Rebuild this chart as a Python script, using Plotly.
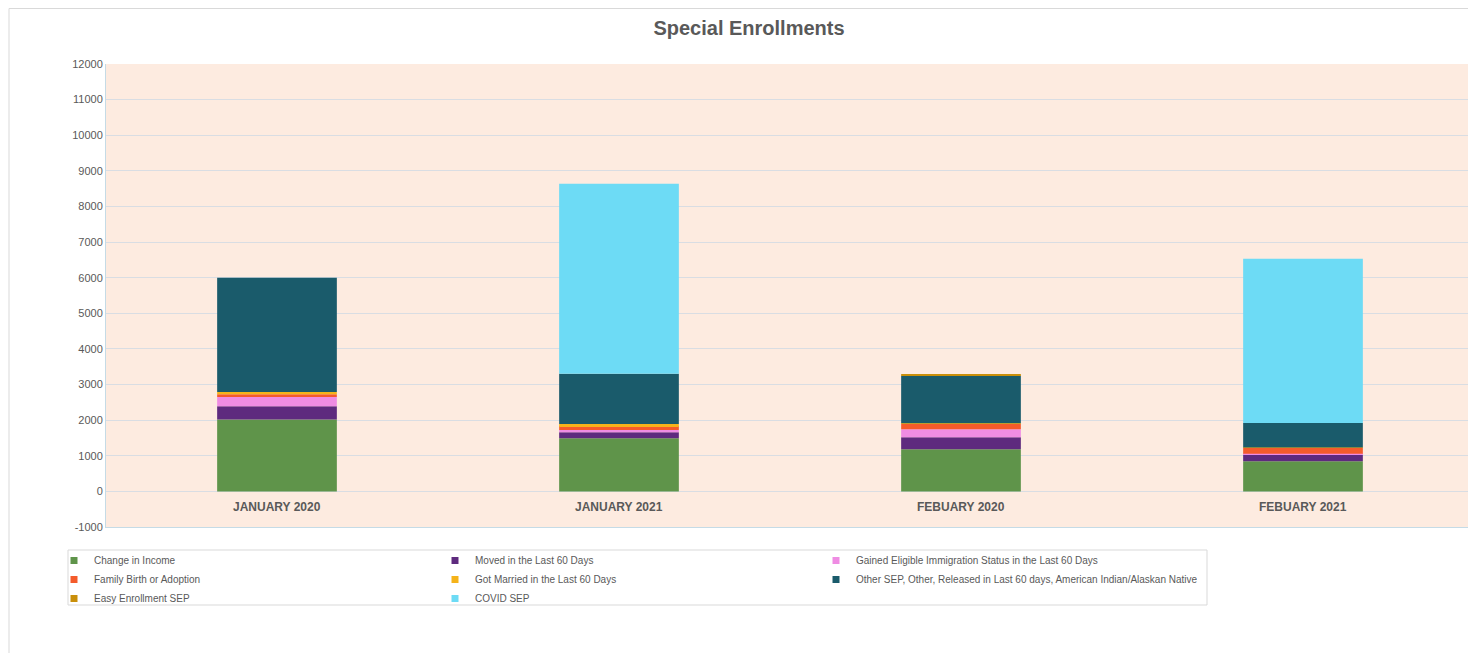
import plotly.graph_objects as go

categories = ["JANUARY 2020", "JANUARY 2021", "FEBUARY 2020", "FEBUARY 2021"]

change_in_income = [2020, 1490, 1180, 845]
moved_60 = [370, 170, 340, 185]
gained_immigration = [260, 65, 225, 30]
family_birth = [80, 110, 155, 165]
got_married = [60, 55, 10, 5]
other_sep = [3210, 1415, 1340, 690]
easy_enrollment = [0, 0, 20, 0]
covid_sep = [0, 5335, 0, 4610]

series = [
    ("Change in Income", change_in_income, "#5f944a"),
    ("Moved in the Last 60 Days", moved_60, "#5e2a7e"),
    ("Gained Eligible Immigration Status in the Last 60 Days", gained_immigration, "#ef8ce3"),
    ("Family Birth or Adoption", family_birth, "#f45b2b"),
    ("Got Married in the Last 60 Days", got_married, "#f5b31a"),
    ("Other SEP, Other, Released in Last 60 days, American Indian/Alaskan Native", other_sep, "#1a5b6b"),
    ("Easy Enrollment SEP", easy_enrollment, "#c98f0a"),
    ("COVID SEP", covid_sep, "#6ddbf5"),
]

y_ticks = list(range(-1000, 12001, 1000))

# page-pixel helpers (figure is offset 8px by the page body margin)
PL, PT, PW, PH = 106, 64, 1368, 463


def px(x):
    return (x - PL) / PW


def py(y):
    return 1 - (y - PT) / PH


fig = go.Figure()
for name, vals, color in series:
    fig.add_trace(go.Bar(
        x=categories, y=vals, name=name,
        marker=dict(color=color, line=dict(width=0)),
        width=0.35, showlegend=False, legendgroup=name,
    ))

# small square legend keys
for name, vals, color in series:
    fig.add_trace(go.Scatter(
        x=[None], y=[None], mode="markers", name=name, legendgroup=name,
        marker=dict(symbol="square", size=7, color=color),
        showlegend=True, hoverinfo="skip",
    ))

for c in categories:
    fig.add_annotation(x=c, y=-450, xref="x", yref="y", text="<b>%s</b>" % c,
                       showarrow=False, font=dict(size=12, color="#595959"))

# chart area border
fig.add_shape(type="rect", xref="paper", yref="paper",
              x0=px(9), x1=px(1490), y0=py(670), y1=py(8.5),
              line=dict(color="#d9d9d9", width=1), layer="below")
# legend border
fig.add_shape(type="rect", xref="paper", yref="paper",
              x0=px(68), x1=px(1207), y0=py(605), y1=py(550),
              line=dict(color="#d9d9d9", width=1), layer="below")

fig.update_layout(
    width=1468, height=645,
    barmode="relative",
    paper_bgcolor="white",
    plot_bgcolor="#fdebe0",
    margin=dict(l=98, r=2, t=56, b=126),
    font=dict(family="Liberation Sans, Arial, sans-serif", color="#595959"),
    title=dict(text="<b>Special Enrollments</b>", x=(749 - 8) / 1468, xanchor="center",
               y=1 - 20 / 645, yanchor="middle", font=dict(size=20, color="#595959")),
    xaxis=dict(showticklabels=False, showgrid=False, showline=True, linecolor="#c5dbe6",
               linewidth=1, range=[-0.5, 3.5], zeroline=False),
    yaxis=dict(range=[-1000, 12000], tickvals=y_ticks, ticktext=[str(v) for v in y_ticks],
               showgrid=True, gridcolor="#d9dde3", gridwidth=1, zeroline=True,
               zerolinecolor="#d9dde3", zerolinewidth=1,
               showline=True, linecolor="#c5dbe6", linewidth=1,
               tickfont=dict(size=11, color="#595959"), ticks="", ticklen=0),
    legend=dict(orientation="h", x=px(54), xanchor="left",
                y=py(546), yanchor="top",
                entrywidth=336, entrywidthmode="pixels",
                font=dict(size=10, color="#595959"),
                borderwidth=0, bgcolor="rgba(0,0,0,0)",
                traceorder="normal", itemwidth=30, itemsizing="trace"),
    showlegend=True,
)

fig.write_html("out.html")
